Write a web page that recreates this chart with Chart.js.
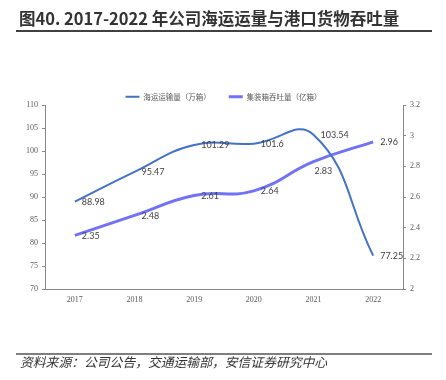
<!DOCTYPE html>
<html>
<head>
<meta charset="utf-8">
<script src="https://cdn.jsdelivr.net/npm/chart.js@4/dist/chart.umd.min.js"></script>
<style>
html,body{margin:0;padding:0;background:#fff;}
canvas{display:block;}
</style>
</head>
<body>
<canvas id="c" width="446" height="380"></canvas>
<script>
const categories = ['2017', '2018', '2019', '2020', '2021', '2022'];
const seaFreight = [88.98, 95.47, 101.29, 101.6, 103.54, 77.25];
const portThroughput = [2.35, 2.48, 2.61, 2.64, 2.83, 2.96];
const seriesNames = ['海运运输量（万箱）', '集装箱吞吐量（亿箱）'];
const leftTicks = [70, 75, 80, 85, 90, 95, 100, 105, 110];
const rightTicks = [2, 2.2, 2.4, 2.6, 2.8, 3, 3.2];
const titleText = '图40. 2017-2022 年公司海运运量与港口货物吞吐量';
const sourceText = '资料来源：公司公告，交通运输部，安信证券研究中心';

const frame = {
  id: 'frame',
  afterDraw(chart) {
    const ctx = chart.ctx;
    ctx.save();
    ctx.fillStyle = '#333';
    ctx.textBaseline = 'alphabetic';
    ctx.textAlign = 'left';
    ctx.font = 'bold 16.5px "Noto Sans CJK SC"';
    ctx.fillText(titleText, 19, 25);
    ctx.strokeStyle = '#000';
    ctx.lineWidth = 1.5;
    ctx.beginPath(); ctx.moveTo(16, 31); ctx.lineTo(432, 31); ctx.stroke();
    ctx.lineWidth = 1.2;
    ctx.beginPath(); ctx.moveTo(16, 354); ctx.lineTo(432, 354); ctx.stroke();
    ctx.font = 'italic 12.8px "Noto Sans CJK SC"';
    ctx.textBaseline = 'middle';
    ctx.fillStyle = '#333';
    ctx.fillText(sourceText, 20, 362);
    ctx.restore();
  }
};

const labels = {
  id: 'valueLabels',
  afterDatasetsDraw(chart, args, opts) {
    const ctx = chart.ctx;
    ctx.save();
    ctx.font = '9px Lato';
    ctx.fillStyle = '#404040';
    ctx.textAlign = 'left';
    ctx.textBaseline = 'middle';
    chart.data.datasets.forEach((ds, di) => {
      const meta = chart.getDatasetMeta(di);
      meta.data.forEach((pt, i) => {
        let dx = 7, dy = 0.5;
        const sp = (opts.special || {})[di + '-' + i];
        if (sp) { dx = sp[0]; dy = sp[1]; }
        ctx.fillText(String(ds.data[i]), pt.x + dx, pt.y + dy);
      });
    });
    ctx.restore();
  }
};

const tickFont = { family: '"Liberation Serif"', size: 8 };

new Chart(document.getElementById('c'), {
  type: 'line',
  data: {
    labels: categories,
    datasets: [
      {
        label: seriesNames[0],
        data: seaFreight,
        yAxisID: 'y',
        borderColor: '#4472C4',
        backgroundColor: '#4472C4',
        borderWidth: 2,
        tension: 0.45,
        pointRadius: 0,
        fill: false
      },
      {
        label: seriesNames[1],
        data: portThroughput,
        yAxisID: 'y1',
        borderColor: '#7272F6',
        backgroundColor: '#7272F6',
        borderWidth: 3,
        tension: 0.45,
        pointRadius: 0,
        fill: false
      }
    ]
  },
  options: {
    responsive: false,
    animation: false,
    devicePixelRatio: 1,
    layout: { padding: { left: 14, right: 13, top: 75, bottom: 71 } },
    plugins: {
      legend: {
        display: true,
        position: 'top',
        maxHeight: 30,
        labels: {
          usePointStyle: true,
          pointStyle: 'line',
          pointStyleWidth: 14,
          boxWidth: 14,
          boxHeight: 8,
          padding: 18,
          color: '#595959',
          font: { family: '"Noto Sans CJK SC"', size: 7.5 }
        }
      },
      tooltip: { enabled: false },
      valueLabels: { special: { '1-4': [1, 9] } }
    },
    scales: {
      x: {
        type: 'category',
        offset: true,
        grid: { display: false, drawOnChartArea: false, drawTicks: true, tickLength: 3, offset: true, color: '#888' },
        border: { display: true, color: '#888', width: 1 },
        ticks: { color: '#595959', font: tickFont, padding: 3, maxRotation: 0 },
        afterFit(s) { s.height = 20; }
      },
      y: {
        position: 'left',
        min: 70, max: 110,
        afterBuildTicks(s) { s.ticks = leftTicks.map(v => ({ value: v })); },
        grid: { drawOnChartArea: false, drawTicks: true, tickLength: 3, color: '#888' },
        border: { display: true, color: '#888', width: 1 },
        ticks: { color: '#595959', font: tickFont, padding: 4 },
        afterFit(s) { s.width = 31; }
      },
      y1: {
        position: 'right',
        min: 2, max: 3.2,
        afterBuildTicks(s) { s.ticks = rightTicks.map(v => ({ value: v })); },
        grid: { drawOnChartArea: false, drawTicks: true, tickLength: 3, color: '#888' },
        border: { display: true, color: '#888', width: 1 },
        ticks: { color: '#595959', font: tickFont, padding: 4, callback: v => String(v) },
        afterFit(s) { s.width = 30; }
      }
    }
  },
  plugins: [labels, frame]
});
</script>
</body>
</html>
